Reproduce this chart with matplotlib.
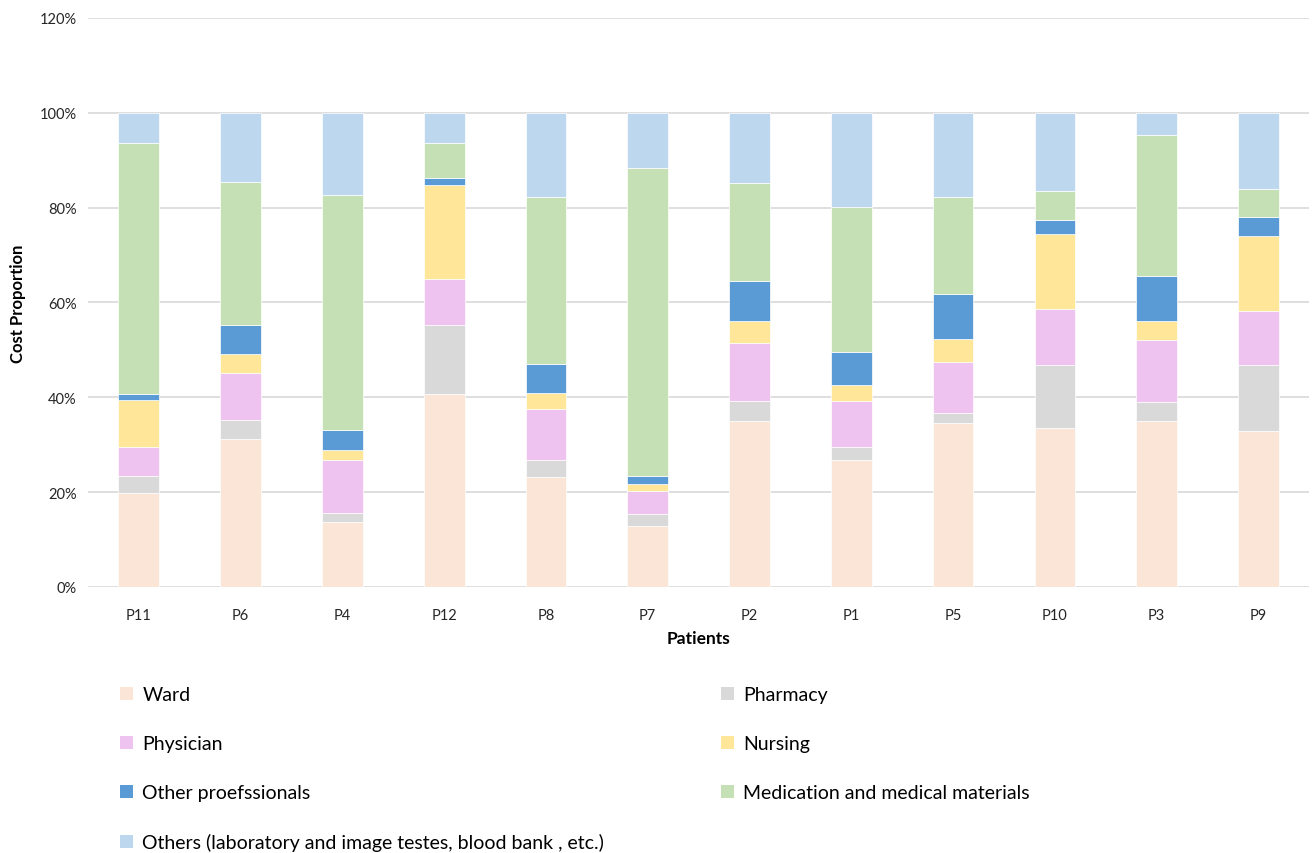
import matplotlib.pyplot as plt
import numpy as np
from matplotlib.ticker import PercentFormatter
from matplotlib.patches import Patch

plt.rcParams['font.family'] = ['Lato', 'DejaVu Sans']

patients = ['P11', 'P6', 'P4', 'P12', 'P8', 'P7', 'P2', 'P1', 'P5', 'P10', 'P3', 'P9']

# cost shares per patient (%)
ward        = [19.8, 31.2, 13.6, 40.6, 23.1, 12.8, 34.9, 26.7, 34.5, 33.6, 34.9, 32.8]
pharmacy    = [3.7, 4.1, 2.1, 14.7, 3.7, 2.5, 4.4, 2.8, 2.1, 13.2, 4.1, 14.0]
physician   = [6.0, 9.8, 11.0, 9.7, 10.8, 4.9, 12.2, 9.8, 10.9, 11.8, 13.0, 11.4]
nursing     = [9.9, 4.1, 2.1, 19.7, 3.4, 1.6, 4.6, 3.2, 4.9, 15.9, 4.1, 15.9]
other_prof  = [1.2, 6.0, 4.4, 1.6, 6.1, 1.6, 8.5, 7.0, 9.4, 2.9, 9.4, 4.0]
medication  = [53.1, 30.3, 49.4, 7.4, 35.2, 65.0, 20.6, 30.7, 20.5, 6.1, 29.9, 5.9]
others      = [6.3, 14.5, 17.4, 6.3, 17.7, 11.6, 14.8, 19.8, 17.7, 16.5, 4.6, 16.0]

series = [
    ('Ward', ward, '#FBE5D6'),
    ('Pharmacy', pharmacy, '#D9D9D9'),
    ('Physician', physician, '#EFC3EF'),
    ('Nursing', nursing, '#FFE699'),
    ('Other proefssionals', other_prof, '#5B9BD5'),
    ('Medication and medical materials', medication, '#C5E0B4'),
    ('Others (laboratory and image testes, blood bank , etc.)', others, '#BDD7EE'),
]

fig = plt.figure(figsize=(13.12, 8.54), dpi=100)
ax = fig.add_axes([0.067, 0.3115, 0.931, 0.6663])

x = np.arange(len(patients))
bottom = np.zeros(len(patients))
handles = {}
for name, vals, col in series:
    vals = np.array(vals) / 100
    ax.bar(x, vals, 0.4, bottom=bottom, color=col, edgecolor='white', linewidth=0.5, zorder=3)
    bottom += vals
    handles[name] = Patch(facecolor=col, edgecolor='none')

ax.set_xlim(-0.5, len(patients) - 0.5)
ax.set_ylim(0, 1.2)
ax.set_yticks(np.arange(0, 1.21, 0.2))
ax.yaxis.set_major_formatter(PercentFormatter(1.0, decimals=0))
ax.set_xticks(x)
ax.set_xticklabels(patients)
ax.tick_params(axis='both', length=0, labelsize=10.5, colors='#262626')
ax.tick_params(axis='x', pad=15)
ax.tick_params(axis='y', pad=8)
ax.grid(axis='y', color='#D9D9D9', linewidth=1.2, zorder=0)
for s in ax.spines.values():
    s.set_visible(False)

ax.set_xlabel('Patients', fontsize=12.5, fontweight='bold', labelpad=6)
ax.set_ylabel('Cost Proportion', fontsize=12, fontweight='bold', labelpad=10)

# legend reads row by row: two columns
order = [series[0][0], series[2][0], series[4][0], series[6][0],
         series[1][0], series[3][0], series[5][0]]
fig.legend([handles[n] for n in order], order, loc='upper left',
           bbox_to_anchor=(120 / 1312, 1 - 687 / 854), ncol=2, frameon=False,
           borderpad=0, borderaxespad=0,
           fontsize=14, handlelength=0.65, handleheight=0.65, handletextpad=0.5,
           labelspacing=1.65, columnspacing=6.0)

fig.savefig('out.png', dpi=100)
